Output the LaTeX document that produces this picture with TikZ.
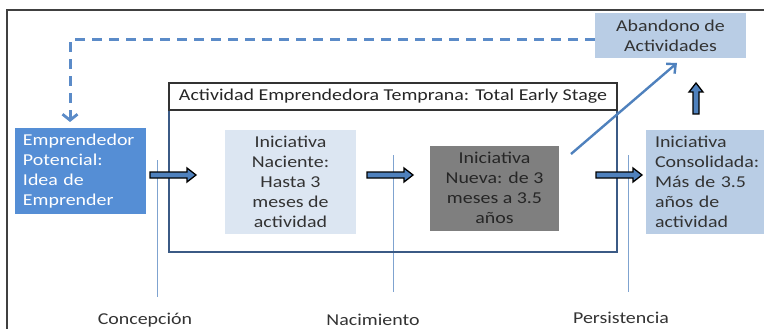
\documentclass[tikz,border=0pt]{standalone}
\usepackage{fontspec}
\setmainfont{Carlito}[FakeStretch=1.2]
\usetikzlibrary{arrows.meta,calc}
\definecolor{embl}{HTML}{558ED5}
\definecolor{lbl}{HTML}{B9CDE5}
\definecolor{pbl}{HTML}{DCE6F2}
\definecolor{gbox}{HTML}{7F7F7F}
\definecolor{txt}{HTML}{333333}
\definecolor{dashc}{HTML}{5B8BC8}
\definecolor{thinc}{HTML}{7FA3D0}
\definecolor{framec}{HTML}{3B5A85}
\definecolor{arrf}{HTML}{4F81BD}
\tikzset{
  txtfont/.style={font=\fontsize{16.6}{20}\selectfont},
  boxc/.style={txtfont, draw=none, align=center, inner sep=0pt, text=txt},
  blockarr/.style={draw=black, line width=1.3pt, fill=arrf, line join=miter},
  stage/.style={draw=thinc, line width=0.8pt},
  lbl/.style={txtfont, text=txt}
}
% horizontal block arrow from x1 to x2 at height y
\newcommand\myhblk[3]{%
  \filldraw[blockarr] (#1,#3-3) -- (#2-9,#3-3) -- (#2-9,#3-7) -- (#2,#3) -- (#2-9,#3+7) -- (#2-9,#3+3) -- (#1,#3+3) -- cycle;}
\begin{document}
\begin{tikzpicture}[x=1pt,y=-1pt]
\useasboundingbox (0,0) rectangle (764,329);
\clip (0,0) rectangle (764,329);
% outer frame
\draw[line width=2pt, draw=black!75] (7,340) -- (7,10) -- (780,10);
% stage lines
\coordinate (l1t) at (157,160); \coordinate (l1b) at (157,297);
\coordinate (l2t) at (393,155); \coordinate (l2b) at (393,292);
\coordinate (l3t) at (628,155); \coordinate (l3b) at (628,292);
\draw[stage] (l1t) -- (l1b);
\draw[stage] (l2t) -- (l2b);
\draw[stage] (l3t) -- (l3b);
% TEA frame
\node[draw=framec, line width=2pt, minimum width=448pt, minimum height=142pt, inner sep=0pt] (frame) at (393,181) {};
\node[draw=black!80, fill=white, line width=1.2pt, minimum width=448pt, minimum height=27pt, inner sep=0pt, txtfont, text=black!85] (title) at (393,96.5) {Actividad Emprendedora Temprana: Total Early Stage};
% boxes
\node[boxc, fill=lbl, minimum width=151pt, minimum height=45pt] (aband) at (670.5,35.5) {Abandono de\\Actividades};
\node[txtfont, fill=embl, text=white, align=left, minimum width=131pt, minimum height=86pt, text width=115pt, inner xsep=0pt, inner ysep=0pt] (empr) at (80.5,171) {Emprendedor\\Potencial:\\Idea de\\Emprender};
\node[boxc, fill=pbl, minimum width=131pt, minimum height=104pt] (nac) at (290.5,182) {Iniciativa\\Naciente:\\Hasta 3\\meses de\\actividad};
\node[boxc, fill=gbox, text=black!85, minimum width=129pt, minimum height=85pt] (nueva) at (494.5,188) {Iniciativa\\Nueva: de 3\\meses a 3.5\\años};
\node[txtfont, fill=lbl, text=txt, align=left, minimum width=128pt, minimum height=103pt, text width=110pt, inner xsep=0pt, inner ysep=0pt] (cons) at (710,182) {Iniciativa\\Consolidada:\\Más de 3.5\\años de\\actividad};
% block arrows
\myhblk{150}{196}{175}
\myhblk{367}{413}{175}
\myhblk{596}{642}{175}
\filldraw[blockarr] (693,114) -- (693,92) -- (689,92) -- (696,83) -- (703,92) -- (699,92) -- (699,114) -- cycle;
% dashed feedback
\coordinate (corner) at (70,40);
\coordinate (dtip) at (70,122);
\draw[dashc, line width=3pt, dash pattern=on 10pt off 7pt, -{Straight Barb[length=6pt,width=15pt,line width=2.8pt]}]
  (aband.west |- corner) -- (corner) -- (dtip);
% diagonal arrow
\coordinate (dstart) at (571,154);
\coordinate (dend) at (677,63);
\draw[arrf, line width=2.4pt, -{Straight Barb[length=7pt,width=13pt,line width=2.4pt]}] (dstart) -- (dend);
% labels
\node[lbl] (c1) at (145,320) {Concepción};
\node[lbl] (c2) at (373,320) {Nacimiento};
\node[lbl] (c3) at (621,318) {Persistencia};
\end{tikzpicture}
\end{document}
